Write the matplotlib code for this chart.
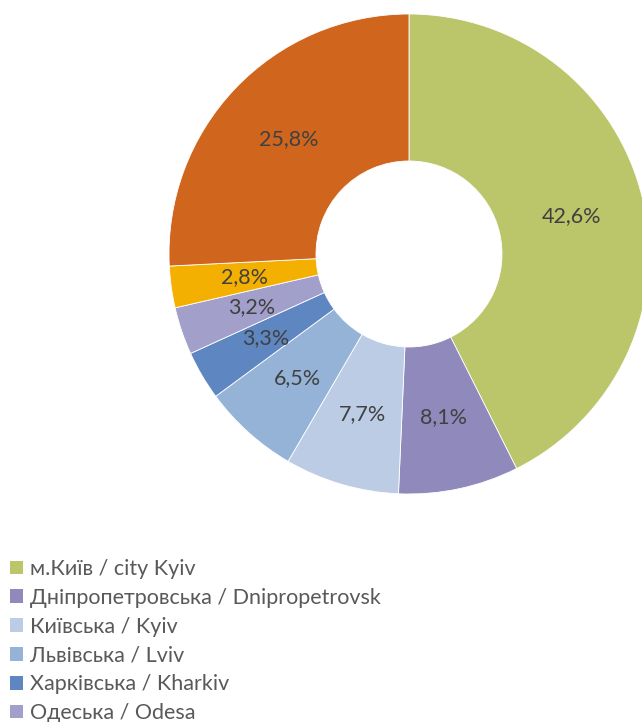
import matplotlib
matplotlib.use("Agg")
import matplotlib.pyplot as plt
from matplotlib.patches import Patch
import numpy as np

# Share by region, clockwise from 12 o'clock
regions = [
    "м.Київ / city Kyiv",
    "Дніпропетровська / Dnipropetrovsk",
    "Київська / Kyiv",
    "Львівська / Lviv",
    "Харківська / Kharkiv",
    "Одеська / Odesa",
    "Запорізька / Zaporizhzhia",
    "Інші / Others",
]
shares = [42.6, 8.1, 7.7, 6.5, 3.3, 3.2, 2.8, 25.8]
colors = ["#BBC66A", "#8F89BC", "#BCCCE5", "#95B3D7",
          "#5E86C0", "#A29FCB", "#F4B000", "#D0661D"]

plt.rcParams["font.family"] = ["Lato", "DejaVu Sans"]

W, H = 642, 722
fig = plt.figure(figsize=(W / 100, H / 100), dpi=100)

# donut: centre (409, 254) px, outer radius 240 px
cx, cy, R = 409, 254, 240
ax = fig.add_axes([(cx - R) / W, (H - cy - R) / H, 2 * R / W, 2 * R / H])
hole = 93 / R

wedges, _ = ax.pie(
    shares,
    colors=colors,
    startangle=90,
    counterclock=False,
    radius=1,
    wedgeprops=dict(width=1 - hole, edgecolor="white", linewidth=0.6),
)

mid_r = (1 + hole) / 2
for w, v in zip(wedges, shares):
    ang = np.deg2rad((w.theta1 + w.theta2) / 2)
    ax.text(mid_r * np.cos(ang), mid_r * np.sin(ang),
            f"{v:.1f}%".replace(".", ","),
            ha="center", va="center", fontsize=15.5, color="#404040")

ax.set_xlim(-1, 1)
ax.set_ylim(-1, 1)
ax.axis("off")

# legend runs past the bottom edge, as in the original
handles = [Patch(facecolor=c, edgecolor="none") for c in colors]
fig.legend(handles, regions, loc="upper left",
           bbox_to_anchor=(10 / W, 1 - 559 / H),
           frameon=False, borderpad=0, borderaxespad=0,
           fontsize=15.5, labelcolor="#595959",
           handlelength=0.6, handleheight=0.6, handletextpad=0.35,
           labelspacing=0.41)

fig.savefig("out.png", dpi=100)
plt.close(fig)
